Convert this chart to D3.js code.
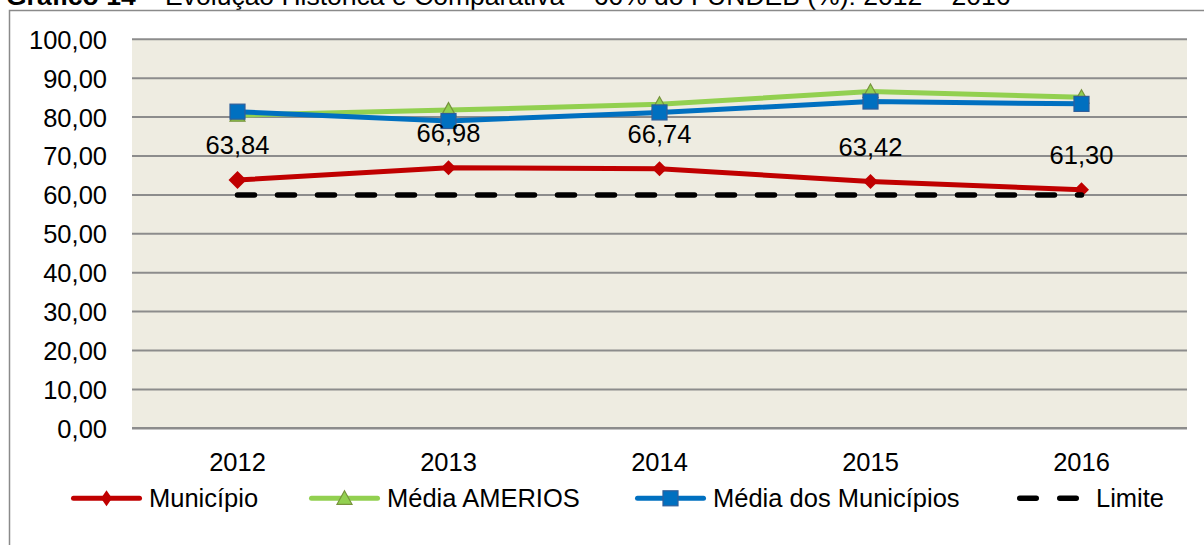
<!DOCTYPE html>
<html>
<head>
<meta charset="utf-8">
<script src="https://cdn.jsdelivr.net/npm/d3@7"></script>
<style>
  html, body { margin: 0; padding: 0; background: #fff; }
  svg { display: block; font-family: "Liberation Sans", Arial, sans-serif; }
</style>
</head>
<body>
<svg id="chart" width="1204" height="545"></svg>
<script>
const years = ["2012", "2013", "2014", "2015", "2016"];
const municipio = [63.84, 66.98, 66.74, 63.42, 61.30];
const mediaAmerios = [80.5, 81.8, 83.3, 86.6, 85.1];
const mediaMunicipios = [81.4, 79.0, 81.2, 84.0, 83.4];
const limite = [60, 60, 60, 60, 60];
const yTicks = [0, 10, 20, 30, 40, 50, 60, 70, 80, 90, 100];
const seriesNames = ["Município", "Média AMERIOS", "Média dos Municípios", "Limite"];
const titleBold = "Gráfico 14";
const titleRest = " – Evolução Histórica e Comparativa – 60% do FUNDEB (%): 2012 – 2016";

const svg = d3.select("#chart");
const W = 1204, H = 545;
const plot = { left: 132, right: 1187, top: 39.3, bottom: 428.3 };
const FS = 25.5;

const x = d3.scaleBand().domain(years).range([plot.left, plot.right]).padding(0);
const cx = d => x(d) + x.bandwidth() / 2;
const y = d3.scaleLinear().domain([0, 100]).range([plot.bottom, plot.top]);
const fmt = v => d3.format(".2f")(v).replace(".", ",");

// Title (partially cut at top, as in the reference)
const title = svg.append("text").attr("x", 6).attr("y", 5).attr("font-size", 26.5).attr("fill", "#000");
title.append("tspan").attr("font-weight", "bold").text(titleBold);
title.append("tspan").text(titleRest);

// outer frame
svg.append("rect").attr("x", 9.5).attr("y", 10.5).attr("width", W + 20).attr("height", H + 20)
  .attr("fill", "none").attr("stroke", "#8a8a8a").attr("stroke-width", 1.5);

// plot background
svg.append("rect").attr("x", plot.left).attr("y", plot.top).attr("width", plot.right - plot.left)
  .attr("height", plot.bottom - plot.top).attr("fill", "#EEECE1");

// gridlines
svg.append("g").selectAll("line").data(yTicks).join("line")
  .attr("x1", plot.left).attr("x2", plot.right)
  .attr("y1", d => y(d)).attr("y2", d => y(d))
  .attr("stroke", "#8c8c8c").attr("stroke-width", d => d === 0 ? 2.5 : 2);

// y axis labels
const yAxis = d3.axisLeft(y).tickValues(yTicks).tickFormat(fmt).tickSize(0).tickPadding(0);
const gy = svg.append("g").attr("transform", `translate(107,0)`).call(yAxis);
gy.select(".domain").remove();
gy.selectAll("text").attr("font-size", FS).attr("font-family", "Liberation Sans, Arial, sans-serif")
  .attr("fill", "#000").attr("dy", "0.35em").attr("x", 0);

// x axis labels
const xAxis = d3.axisBottom(x).tickSize(0).tickPadding(0);
const gx = svg.append("g").attr("transform", `translate(0,${plot.bottom})`).call(xAxis);
gx.select(".domain").remove();
gx.selectAll("text").attr("font-size", FS).attr("font-family", "Liberation Sans, Arial, sans-serif")
  .attr("fill", "#000").attr("y", 42.5).attr("dy", 0);

const line = d3.line().x((d, i) => cx(years[i])).y(d => y(d));

const colRed = "#C00000", colGreen = "#92D050", colBlue = "#0070C0";

// Município
svg.append("path").datum(municipio).attr("d", line).attr("fill", "none")
  .attr("stroke", colRed).attr("stroke-width", 5).attr("stroke-linejoin", "round");
const diamond = (s) => `M0,${-s}L${s},0L0,${s}L${-s},0Z`;
svg.append("g").selectAll("path").data(municipio).join("path")
  .attr("transform", (d, i) => `translate(${cx(years[i])},${y(d)})`)
  .attr("d", (d, i) => diamond(i === 0 ? 9 : 7.5)).attr("fill", colRed);

// Média AMERIOS
svg.append("path").datum(mediaAmerios).attr("d", line).attr("fill", "none")
  .attr("stroke", colGreen).attr("stroke-width", 5).attr("stroke-linejoin", "round");
const tri = (s) => `M0,${-s}L${s},${s * 0.8}L${-s},${s * 0.8}Z`;
svg.append("g").selectAll("path").data(mediaAmerios).join("path")
  .attr("transform", (d, i) => `translate(${cx(years[i])},${y(d)})`)
  .attr("d", tri(7.5)).attr("fill", colGreen).attr("stroke", "#77933C").attr("stroke-width", 1.2);

// Média dos Municípios
svg.append("path").datum(mediaMunicipios).attr("d", line).attr("fill", "none")
  .attr("stroke", colBlue).attr("stroke-width", 5).attr("stroke-linejoin", "round");
svg.append("g").selectAll("rect").data(mediaMunicipios).join("rect")
  .attr("x", (d, i) => cx(years[i]) - 7.5).attr("y", d => y(d) - 7.5)
  .attr("width", 15).attr("height", 15).attr("fill", colBlue)
  .attr("stroke", "#2F5E9A").attr("stroke-width", 1.2);

// Limite
svg.append("path").datum(limite).attr("d", line).attr("fill", "none")
  .attr("stroke", "#000").attr("stroke-width", 5.5).attr("stroke-dasharray", "17 23")
  .attr("stroke-linecap", "round");

// data labels
svg.append("g").selectAll("text").data(municipio).join("text")
  .attr("x", (d, i) => cx(years[i])).attr("y", d => y(d) - 26)
  .attr("text-anchor", "middle").attr("font-size", FS).attr("fill", "#000")
  .text(d => fmt(d));

// legend
const legY = 498.3;
const legendItems = [
  { name: seriesNames[0], x0: 71, color: colRed, marker: "diamond" },
  { name: seriesNames[1], x0: 309, color: colGreen, marker: "triangle" },
  { name: seriesNames[2], x0: 635, color: colBlue, marker: "square" },
  { name: seriesNames[3], x0: 1017, color: "#000", marker: "dash" }
];
const lg = svg.append("g");
legendItems.forEach(it => {
  const g = lg.append("g");
  const len = it.marker === "dash" ? 62 : 71;
  if (it.marker === "dash") {
    g.append("line").attr("x1", it.x0 + 2.75).attr("x2", it.x0 + len - 2.75)
      .attr("y1", legY).attr("y2", legY).attr("stroke", "#000").attr("stroke-width", 5.5)
      .attr("stroke-dasharray", "16.5 23.5").attr("stroke-linecap", "round");
  } else {
    g.append("line").attr("x1", it.x0 + 2.5).attr("x2", it.x0 + len - 2.5)
      .attr("y1", legY).attr("y2", legY).attr("stroke", it.color).attr("stroke-width", 5)
      .attr("stroke-linecap", "round");
    const mx = it.x0 + len / 2;
    if (it.marker === "diamond") {
      g.append("path").attr("transform", `translate(${mx},${legY})`)
        .attr("d", `M0,-8L5.5,0L0,8L-5.5,0Z`).attr("fill", it.color);
    } else if (it.marker === "triangle") {
      g.append("path").attr("transform", `translate(${mx},${legY})`)
        .attr("d", tri(7.5)).attr("fill", it.color).attr("stroke", "#77933C").attr("stroke-width", 1.2);
    } else {
      g.append("rect").attr("x", mx - 7.5).attr("y", legY - 7.5).attr("width", 15).attr("height", 15)
        .attr("fill", it.color).attr("stroke", "#2F5E9A").attr("stroke-width", 1.2);
    }
  }
  g.append("text").attr("x", it.x0 + len + (it.marker === "dash" ? 17 : 7)).attr("y", legY + 9)
    .attr("font-size", FS).attr("fill", "#000").text(it.name);
});
</script>
</body>
</html>
